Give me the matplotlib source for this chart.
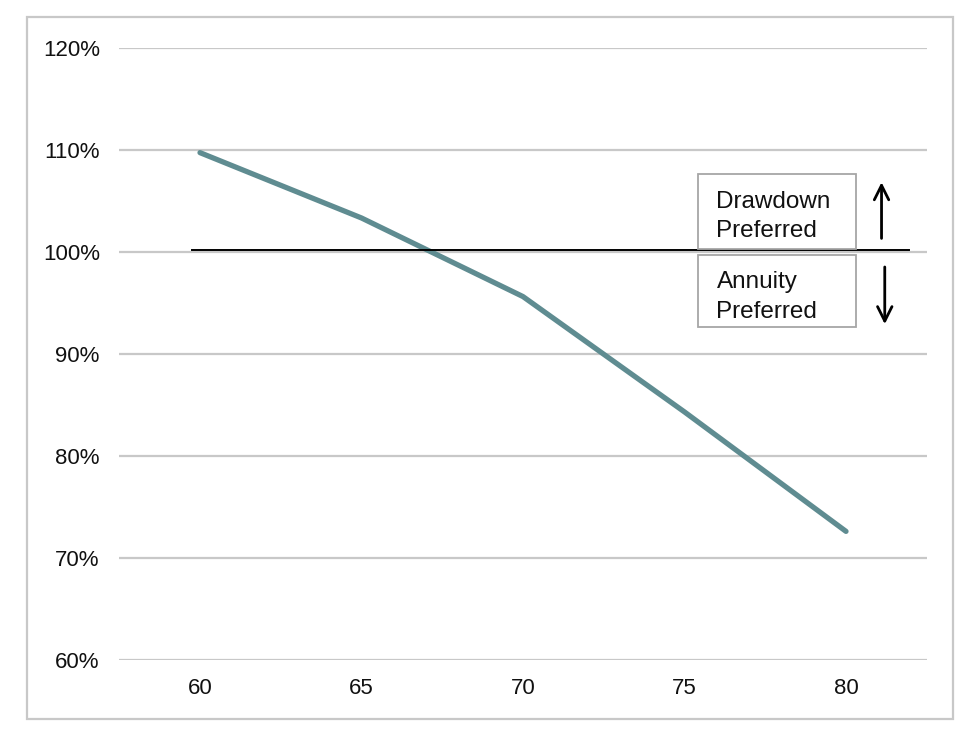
import matplotlib
matplotlib.use("Agg")
import matplotlib.pyplot as plt
from matplotlib.patches import Rectangle
from matplotlib.ticker import FuncFormatter

# Data
ages = [60, 65, 70, 75, 80]
ratio = [109.7, 103.3, 95.6, 84.3, 72.6]
y_ticks = [60, 70, 80, 90, 100, 110, 120]
label_top = ["Drawdown", "Preferred"]
label_bottom = ["Annuity", "Preferred"]

plt.rcParams['font.family'] = ['Liberation Sans', 'DejaVu Sans']

fig = plt.figure(figsize=(9.7, 7.35), dpi=100)
fig.patch.set_facecolor('white')
# outer border
fig.patches.append(Rectangle((27/970, 1-719/735), (953-27)/970, (719-17)/735,
                             transform=fig.transFigure, fill=False,
                             edgecolor='#C8C8C8', linewidth=1.6, zorder=0))

ax = fig.add_axes([119.25/970, 1-660/735, (926.75-119.25)/970, (660-47.5)/735])
ax.set_xlim(57.5, 82.5)
ax.set_ylim(60, 120)
ax.set_yticks(y_ticks)
ax.set_xticks(ages)
ax.yaxis.set_major_formatter(FuncFormatter(lambda v, p: f"{v:.0f}%"))
for s in ax.spines.values():
    s.set_visible(False)
ax.grid(axis='y', color='#C8C8C8', linewidth=1.6, zorder=0)
ax.tick_params(axis='both', length=0, labelsize=16, colors='#111111')
ax.tick_params(axis='y', pad=14)
ax.tick_params(axis='x', pad=13)
ax.set_axisbelow(True)

ax.plot(ages, ratio, color='#5F8C91', linewidth=3.8, solid_capstyle='round',
        solid_joinstyle='round', zorder=3)

# reference line at 100%
ax.plot([59.74, 81.95], [100.15, 100.15], color='black', linewidth=1.4, zorder=4)

# boxes
ax.add_patch(Rectangle((75.41, 100.29), 80.32-75.41, 107.65-100.29, fill=False,
                       edgecolor='#A6A6A6', linewidth=1.3, zorder=5))
ax.add_patch(Rectangle((75.41, 92.6), 80.32-75.41, 99.64-92.6, fill=False,
                       edgecolor='#A6A6A6', linewidth=1.3, zorder=5))
fs = 17.5
ax.text(75.99, 104.87, label_top[0], fontsize=fs, va='center', ha='left', color='#111111')
ax.text(75.99, 101.99, label_top[1], fontsize=fs, va='center', ha='left', color='#111111')
ax.text(75.99, 97.02, label_bottom[0], fontsize=fs, va='center', ha='left', color='#111111')
ax.text(75.99, 94.07, label_bottom[1], fontsize=fs, va='center', ha='left', color='#111111')

# arrows
ax.annotate('', xy=(81.1, 106.8), xytext=(81.1, 101.3),
            arrowprops=dict(arrowstyle='->', color='black', lw=2.0,
                            mutation_scale=26, shrinkA=0, shrinkB=0))
ax.annotate('', xy=(81.2, 92.9), xytext=(81.2, 98.5),
            arrowprops=dict(arrowstyle='->', color='black', lw=2.0,
                            mutation_scale=26, shrinkA=0, shrinkB=0))

fig.savefig('out.png', dpi=100)
